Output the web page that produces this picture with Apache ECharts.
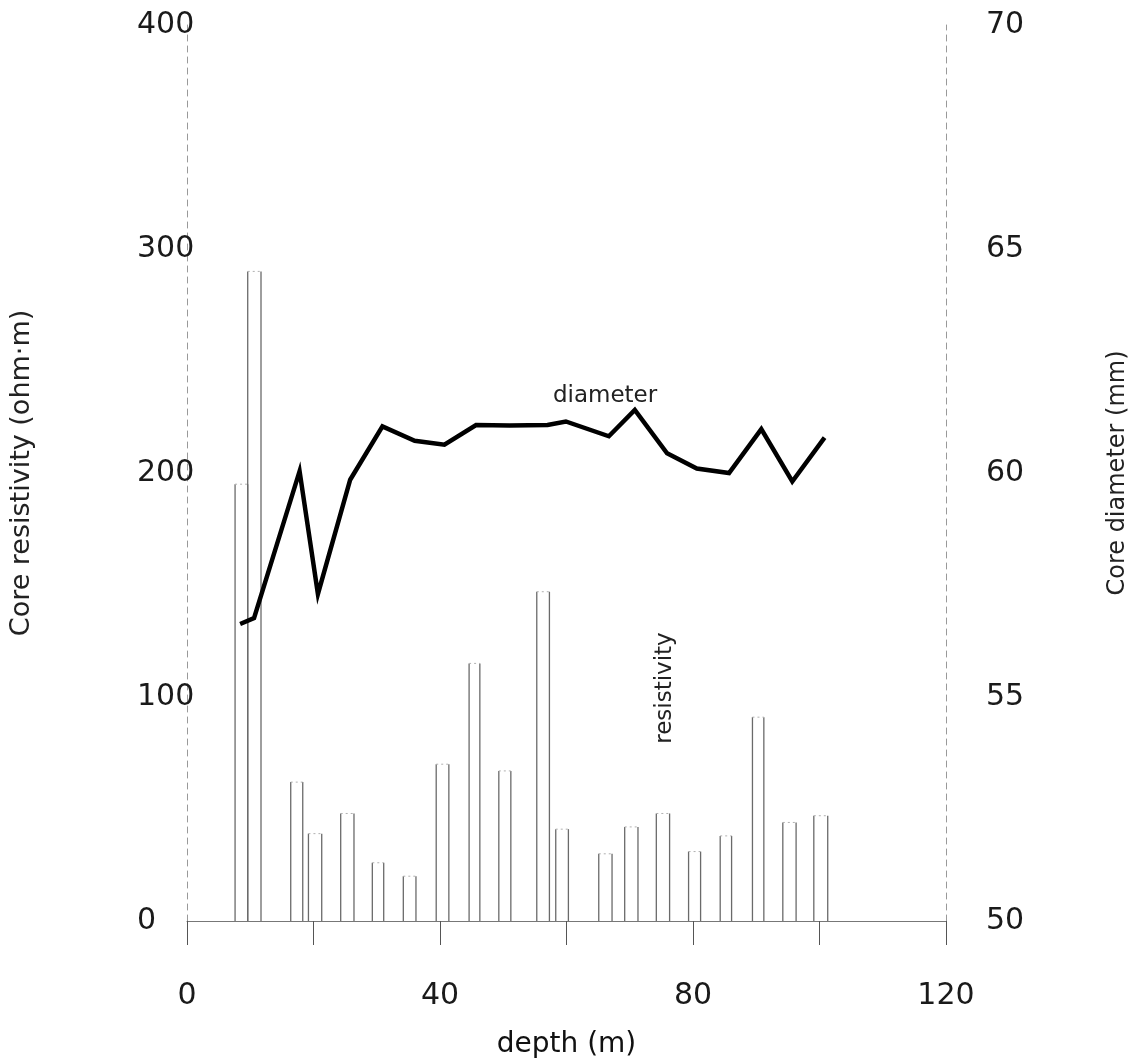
<!DOCTYPE html>
<html>
<head>
<meta charset="utf-8">
<script src="https://cdn.jsdelivr.net/npm/echarts@6/dist/echarts.min.js"></script>
<style>
html,body{margin:0;padding:0;background:#fff;}
#chart{width:1139px;height:1064px;}
</style>
</head>
<body>
<div id="chart"></div>
<script>
// Diameter curve (depth m, core diameter mm)
const diamDepth = [8.4, 10.6, 17.8, 20.7, 25.8, 30.9, 36.0, 40.7, 45.7, 51.0, 57.0, 59.9, 66.7, 70.8, 75.9, 80.6, 85.7, 90.8, 95.7, 100.8];
const diamValue = [56.63, 56.76, 60.04, 57.30, 59.85, 61.04, 60.72, 60.63, 61.07, 61.06, 61.07, 61.15, 60.82, 61.41, 60.44, 60.10, 60.00, 60.98, 59.81, 60.79];

// Resistivity histogram blocks (depth interval start/end, resistivity ohm·m)
const resStart = [7.6, 9.6, 16.4, 19.2, 24.3, 29.3, 34.2, 39.4, 44.6, 49.3, 55.3, 58.3, 65.1, 69.2, 74.2, 79.3, 84.3, 89.4, 94.2, 99.1];
const resEnd   = [9.6, 11.7, 18.3, 21.3, 26.4, 31.1, 36.2, 41.4, 46.3, 51.2, 57.3, 60.3, 67.2, 71.3, 76.3, 81.2, 86.1, 91.2, 96.3, 101.3];
const resValue = [195, 290, 62, 39, 48, 26, 20, 70, 115, 67, 147, 41, 30, 42, 48, 31, 38, 91, 44, 47];

// Tick labels
const xTicks = [0, 40, 80, 120];
const leftTicks = [0, 100, 200, 300, 400];
const rightTicks = [50, 55, 60, 65, 70];

const diamData = diamDepth.map((d, i) => [d, diamValue[i]]);
const resData = resStart.map((s, i) => [s, resEnd[i], resValue[i]]);

const FONT = 'DejaVu Sans';
const chart = echarts.init(document.getElementById('chart'));
chart.setOption({
  animation: false,
  backgroundColor: '#fff',
  grid: { left: 183, right: 193, top: 25, bottom: 139, containLabel: false },
  xAxis: {
    type: 'value', min: 0, max: 120, interval: 20,
    name: 'depth (m)', nameLocation: 'middle', nameGap: 110,
    nameTextStyle: { fontFamily: FONT, fontSize: 28, color: '#111' },
    axisLine: { onZero: true, lineStyle: { color: '#777', width: 1 } },
    axisTick: { show: true, length: 24, lineStyle: { color: '#555', width: 1 } },
    axisLabel: {
      margin: 60, fontFamily: FONT, fontSize: 30, color: '#1a1a1a',
      formatter: v => xTicks.indexOf(v) >= 0 ? String(v) : ''
    },
    splitLine: { show: false }
  },
  yAxis: [
    {
      type: 'value', min: 0, max: 400, interval: 100, position: 'left',
      name: 'Core resistivity (ohm\u00b7m)', nameLocation: 'middle', nameGap: 152,
      nameTextStyle: { fontFamily: FONT, fontSize: 27, color: '#222' },
      axisLine: { show: true, lineStyle: { color: '#999', width: 1, type: [6, 5] } },
      axisTick: { show: false },
      axisLabel: {
        margin: 50, align: 'left', fontFamily: FONT, fontSize: 30, color: '#1a1a1a',
        formatter: v => leftTicks.indexOf(v) >= 0 ? String(v) : ''
      },
      splitLine: { show: false }
    },
    {
      type: 'value', min: 50, max: 70, interval: 5, position: 'right',
      name: 'Core diameter (mm)', nameLocation: 'middle', nameGap: 160,
      nameRotate: 90,
      nameTextStyle: { fontFamily: FONT, fontSize: 24, color: '#222' },
      axisLine: { show: true, lineStyle: { color: '#999', width: 1, type: [6, 5] } },
      axisTick: { show: false },
      axisLabel: {
        margin: 40, fontFamily: FONT, fontSize: 30, color: '#1a1a1a',
        formatter: v => rightTicks.indexOf(v) >= 0 ? String(v) : ''
      },
      splitLine: { show: false }
    }
  ],
  series: [
    {
      name: 'resistivity',
      type: 'custom',
      xAxisIndex: 0, yAxisIndex: 0,
      data: resData,
      encode: { x: [0, 1], y: 2 },
      renderItem: function (params, api) {
        const p0 = api.coord([api.value(0), 0]);
        const p1 = api.coord([api.value(0), api.value(2)]);
        const p2 = api.coord([api.value(1), api.value(2)]);
        const p3 = api.coord([api.value(1), 0]);
        return {
          type: 'group',
          children: [
            { type: 'line', shape: { x1: p0[0], y1: p0[1], x2: p1[0], y2: p1[1] },
              style: { stroke: '#6a6a6a', lineWidth: 1.3 } },
            { type: 'line', shape: { x1: p3[0], y1: p3[1], x2: p2[0], y2: p2[1] },
              style: { stroke: '#6a6a6a', lineWidth: 1.3 } },
            { type: 'line', shape: { x1: p1[0], y1: p1[1], x2: p2[0], y2: p2[1] },
              style: { stroke: '#b0b0b0', lineWidth: 1, lineDash: [2, 3] } }
          ]
        };
      },
      markPoint: {
        symbol: 'circle', symbolSize: 0,
        data: [{ coord: [75.6, 104], value: 'resistivity' }],
        label: {
          show: true, formatter: 'resistivity', rotate: 90,
          fontFamily: FONT, fontSize: 23, color: '#222', position: 'inside'
        }
      },
      z: 2
    },
    {
      name: 'diameter',
      type: 'line',
      xAxisIndex: 0, yAxisIndex: 1,
      data: diamData,
      showSymbol: false, symbol: 'none',
      lineStyle: { color: '#000', width: 4.5, join: 'miter' },
      markPoint: {
        symbol: 'circle', symbolSize: 0,
        data: [{ coord: [66.1, 61.72], value: 'diameter' }],
        label: {
          show: true, formatter: 'diameter',
          fontFamily: FONT, fontSize: 23, color: '#222', position: 'inside'
        }
      },
      z: 3
    }
  ]
});
</script>
</body>
</html>
